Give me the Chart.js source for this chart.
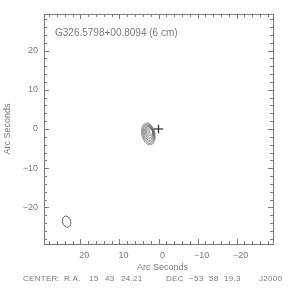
<!DOCTYPE html>
<html><head><meta charset="utf-8">
<script src="https://cdn.jsdelivr.net/npm/chart.js@4/dist/chart.umd.min.js"></script>
<style>html,body{margin:0;padding:0;background:#fff}#c{display:block}</style>
</head><body><canvas id="c" width="288" height="288"></canvas>
<script>
// ---- data ----
const titleText = "G326.5798+00.8094 (6 cm)";
const xTitle = "Arc Seconds";
const yTitle = "Arc Seconds";
const centerWords = ["CENTER:", "R.A.", "15", "43", "24.21", "DEC", "\u221253", "58", "19.3", "J2000"];
const axisMin = -29.3;
const axisMax = 29.3;
const majorTicks = [-20, -10, 0, 10, 20];
const minorTicks = [-28,-26,-24,-22,-18,-16,-14,-12,-8,-6,-4,-2,2,4,6,8,12,14,16,18,22,24,26,28];
// cross marker (arcsec)
const crossH = [{x: 1.2, y: 0}, {x: -1.2, y: 0}];
const crossV = [{x: 0, y: 1.1}, {x: 0, y: -1.1}];
// contour ellipses (arcsec): centre x, centre y, semi-axis x, semi-axis y, tilt (deg)
const contourCx = [2.6, 2.55, 2.5, 2.45, 2.35, 2.25, 2.1, 1.95];
const contourCy = [-1.25, -1.2, -1.15, -1.05, -0.95, -0.85, -0.75, -0.65];
const contourRx = [1.7, 1.52, 1.35, 1.17, 0.99, 0.8, 0.6, 0.4];
const contourRy = [2.85, 2.55, 2.25, 1.95, 1.65, 1.35, 1.05, 0.7];
const contourTilt = [-12, -12, -12, -12, -12, -12, -12, -12];
// beam ellipse (arcsec)
const beamCx = [23.5];
const beamCy = [-23.6];
const beamRx = [1.05];
const beamRy = [1.45];
const beamTilt = [-15];

const GRAY = '#7a7a7a';
const FONT = '"Liberation Sans", Arial, sans-serif';

const minus = v => v < 0 ? '\u2212' + Math.abs(v) : String(v);

const decor = {
  id: 'decor',
  afterDatasetsDraw(chart) {
    const ctx = chart.ctx, a = chart.chartArea;
    const xs = chart.scales.x, ys = chart.scales.y;
    ctx.save();
    ctx.strokeStyle = GRAY; ctx.lineWidth = 1;
    ctx.strokeRect(Math.round(a.left) + 0.5, Math.round(a.top) + 0.5, Math.round(a.right - a.left), Math.round(a.bottom - a.top));
    const tick = (v, len) => {
      const px = Math.round(xs.getPixelForValue(v)) + 0.5;
      const py = Math.round(ys.getPixelForValue(v)) + 0.5;
      ctx.beginPath();
      ctx.moveTo(px, a.bottom); ctx.lineTo(px, a.bottom - len);
      ctx.moveTo(px, a.top); ctx.lineTo(px, a.top + len);
      ctx.moveTo(a.left, py); ctx.lineTo(a.left + len, py);
      ctx.moveTo(a.right, py); ctx.lineTo(a.right - len, py);
      ctx.stroke();
    };
    majorTicks.forEach(v => tick(v, 5));
    minorTicks.forEach(v => tick(v, 3));
    const sx = Math.abs(xs.getPixelForValue(1) - xs.getPixelForValue(0));
    const sy = Math.abs(ys.getPixelForValue(1) - ys.getPixelForValue(0));
    const ell = (cx, cy, rx, ry, t, color, lw) => {
      ctx.beginPath();
      ctx.strokeStyle = color; ctx.lineWidth = lw;
      ctx.ellipse(xs.getPixelForValue(cx), ys.getPixelForValue(cy), rx * sx, ry * sy, t * Math.PI / 180, 0, Math.PI * 2);
      ctx.stroke();
    };
    contourCx.forEach((c, i) => ell(c, contourCy[i], contourRx[i], contourRy[i], contourTilt[i], '#555', 0.6));
    beamCx.forEach((c, i) => ell(c, beamCy[i], beamRx[i], beamRy[i], beamTilt[i], '#555', 0.9));
    ctx.fillStyle = GRAY;
    ctx.textBaseline = 'middle';
    ctx.textAlign = 'left';
    ctx.font = '10px ' + FONT;
    ctx.fillText(titleText, 55, 33);
    ctx.font = '9px ' + FONT;
    ctx.textAlign = 'center';
    ctx.fillText(xTitle, (a.left + a.right) / 2 + 4, 268);
    ctx.save();
    ctx.translate(8, (a.top + a.bottom) / 2);
    ctx.rotate(-Math.PI / 2);
    ctx.fillText(yTitle, 0, 0);
    ctx.restore();
    // bottom info line, word by word
    ctx.font = '8px ' + FONT;
    ctx.letterSpacing = '0.3px';
    ctx.textAlign = 'left';
    const wordX = [23, 64, 89, 105, 121, 166, 189, 209, 224, 259];
    centerWords.forEach((t, i) => ctx.fillText(t, wordX[i], 279));
    ctx.letterSpacing = '0px';
    ctx.restore();
  }
};

new Chart(document.getElementById('c'), {
  type: 'scatter',
  data: {
    datasets: [
      {data: crossH, showLine: true, borderColor: '#333', borderWidth: 1.3, pointRadius: 0},
      {data: crossV, showLine: true, borderColor: '#333', borderWidth: 1.3, pointRadius: 0}
    ]
  },
  options: {
    responsive: false, animation: false, devicePixelRatio: 1,
    layout: {padding: {top: 14, right: 15, left: 0, bottom: 0}},
    plugins: {legend: {display: false}, tooltip: {enabled: false}},
    scales: {
      x: {
        type: 'linear', reverse: true, min: axisMin, max: axisMax,
        afterBuildTicks: s => { s.ticks = majorTicks.map(v => ({value: v})); },
        afterFit: s => { s.height = 44; },
        grid: {display: false, drawTicks: false, tickLength: 0}, border: {display: false},
        ticks: {color: GRAY, font: {size: 9, family: FONT}, padding: 6, maxRotation: 0, labelOffset: 4, callback: minus}
      },
      y: {
        type: 'linear', min: axisMin, max: axisMax,
        afterBuildTicks: s => { s.ticks = majorTicks.map(v => ({value: v})); },
        afterFit: s => { s.width = 44; },
        grid: {display: false, drawTicks: false, tickLength: 0}, border: {display: false},
        ticks: {color: GRAY, font: {size: 9, family: FONT}, padding: 6, callback: minus}
      }
    }
  },
  plugins: [decor]
});
</script>
</body></html>
